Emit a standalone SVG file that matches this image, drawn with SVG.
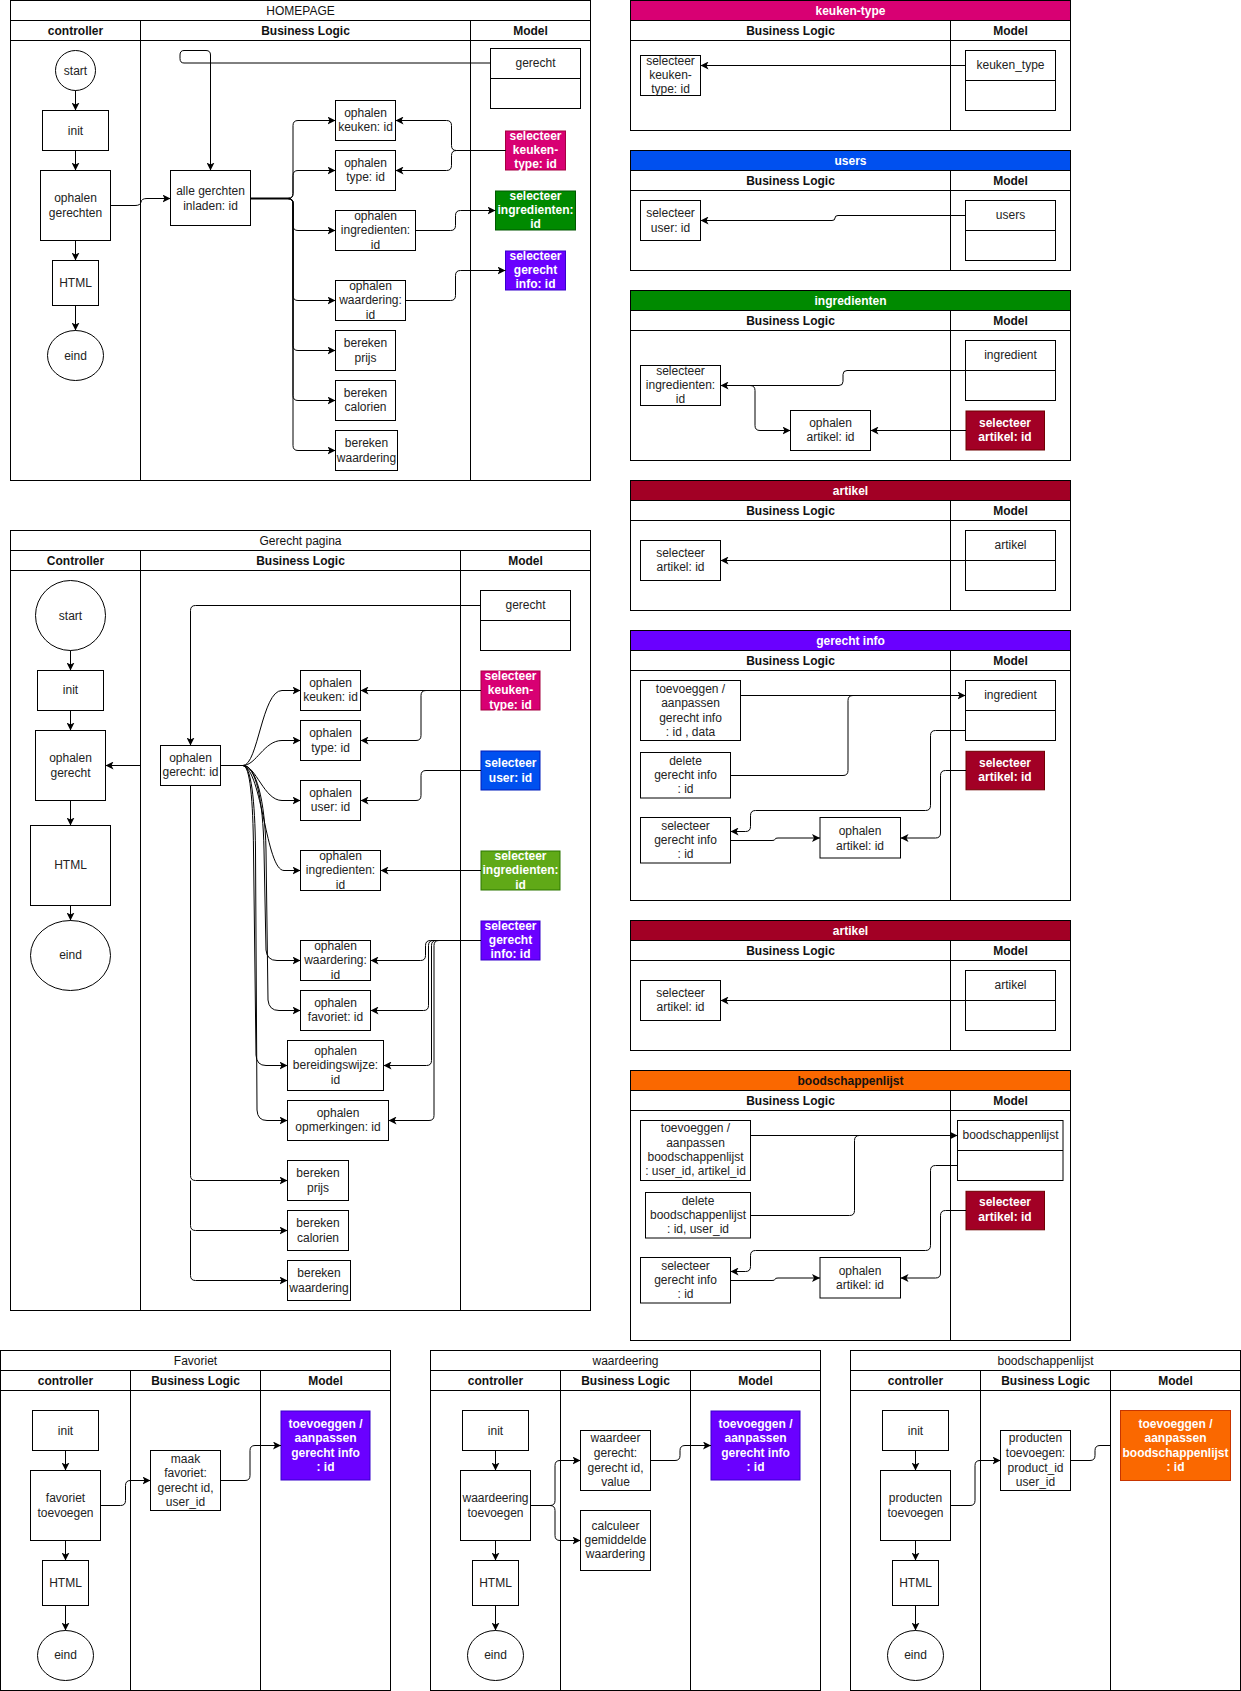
<svg xmlns="http://www.w3.org/2000/svg" width="1241" height="1691" viewBox="0 0 1241 1691">
<defs>
<style>
.pool{fill:#fff;stroke:#000;stroke-width:1}
.ln{stroke:#000;stroke-width:1;fill:none}
.box{fill:#fff;stroke:#000;stroke-width:1}
.c{fill:none;stroke:#000;stroke-width:1}
.t{font-family:"Liberation Sans",Arial,sans-serif;font-size:12px;fill:#222;text-anchor:middle;dominant-baseline:central}
.hd{font-family:"Liberation Sans",Arial,sans-serif;font-size:12px;font-weight:bold;fill:#111;text-anchor:middle;dominant-baseline:central}
.tt{font-family:"Liberation Sans",Arial,sans-serif;font-size:12px;fill:#111;text-anchor:middle;dominant-baseline:central}
.wb{font-family:"Liberation Sans",Arial,sans-serif;font-size:12px;font-weight:bold;fill:#fff;text-anchor:middle;dominant-baseline:central}
.pink{fill:#d80073;stroke:#a50040}
.blue{fill:#0050ef;stroke:#001dbc}
.green{fill:#008a00;stroke:#005700}
.lgreen{fill:#60a917;stroke:#2d7600}
.purple{fill:#6a00ff;stroke:#3700cc}
.red{fill:#a20025;stroke:#6f0000}
.orange{fill:#fa6800;stroke:#c73500}
</style>
<marker id="a" viewBox="0 0 10 10" refX="10" refY="5" markerWidth="8" markerHeight="8" orient="auto" markerUnits="userSpaceOnUse"><path d="M0,0 L10,5 L0,10 L2.5,5 z" fill="#000"/></marker>
</defs>
<rect width="1241" height="1691" fill="#fff"/>

<!-- HOMEPAGE pool -->
<g id="pool-homepage">
<rect class="pool" x="10.5" y="0.5" width="580" height="480"/>
<path class="ln" d="M10.5,20.5H590.5M10.5,40.5H590.5M140.5,20.5V480.5M470.5,20.5V480.5"/>
<text class="tt" x="300.5" y="10.5">HOMEPAGE</text>
<text class="hd" x="75.5" y="30.5">controller</text>
<text class="hd" x="305.5" y="30.5">Business Logic</text>
<text class="hd" x="530.5" y="30.5">Model</text>
</g>
<g id="hp-start"><ellipse class="box" cx="75.5" cy="70.5" rx="20" ry="20"/><text class="t" x="75.5" y="70.5">start</text></g>
<g id="hp-init"><rect class="box" x="42.5" y="110.5" width="66" height="40"/><text class="t" x="75.5" y="130.5">init</text></g>
<g id="hp-ophalen-gerechten"><rect class="box" x="40.5" y="170.5" width="70" height="70"/><text class="t" x="75.5" y="198">ophalen</text><text class="t" x="75.5" y="212.7">gerechten</text></g>
<g id="hp-html"><rect class="box" x="52.5" y="260.5" width="46" height="45"/><text class="t" x="75.5" y="283">HTML</text></g>
<g id="hp-eind"><ellipse class="box" cx="75.5" cy="355.5" rx="28" ry="25"/><text class="t" x="75.5" y="355.5">eind</text></g>
<g id="hp-alle"><rect class="box" x="170.5" y="170.5" width="80" height="55"/><text class="t" x="210.5" y="191">alle gerchten</text><text class="t" x="210.5" y="205.7">inladen: id</text></g>
<g id="hp-gerecht"><rect class="box" x="490.5" y="48.5" width="90" height="60"/><path class="ln" d="M490.5,78.5H580.5"/><text class="t" x="535.5" y="63">gerecht</text></g>
<g id="hp-keuken"><rect class="box" x="335.5" y="100.5" width="60" height="40"/><text class="t" x="365.5" y="112.7">ophalen</text><text class="t" x="365.5" y="127.3">keuken: id</text></g>
<g id="hp-type"><rect class="box" x="335.5" y="150.5" width="60" height="40"/><text class="t" x="365.5" y="162.7">ophalen</text><text class="t" x="365.5" y="177.3">type: id</text></g>
<g id="hp-ingredienten"><rect class="box" x="335.5" y="210.5" width="80" height="40"/><text class="t" x="375.5" y="216">ophalen</text><text class="t" x="375.5" y="230">ingredienten:</text><text class="t" x="375.5" y="244.7">id</text></g>
<g id="hp-waardering"><rect class="box" x="335.5" y="280.5" width="70" height="40"/><text class="t" x="370.5" y="286">ophalen</text><text class="t" x="370.5" y="300">waardering:</text><text class="t" x="370.5" y="314.7">id</text></g>
<g id="hp-prijs"><rect class="box" x="335.5" y="330.5" width="60" height="40"/><text class="t" x="365.5" y="342.7">bereken</text><text class="t" x="365.5" y="358">prijs</text></g>
<g id="hp-calorien"><rect class="box" x="335.5" y="380.5" width="60" height="40"/><text class="t" x="365.5" y="392.7">bereken</text><text class="t" x="365.5" y="407.3">calorien</text></g>
<g id="hp-bwaardering"><rect class="box" x="335.5" y="430.5" width="62" height="40"/><text class="t" x="366.5" y="442.7">bereken</text><text class="t" x="366.5" y="457.7">waardering</text></g>
<g id="hp-sel-keuken"><rect class="pink" x="505.5" y="131" width="60" height="39"/><text class="wb" x="535.5" y="136">selecteer</text><text class="wb" x="535.5" y="150">keuken-</text><text class="wb" x="535.5" y="164.3">type: id</text></g>
<g id="hp-sel-ingr"><rect class="green" x="495.5" y="191" width="80" height="39"/><text class="wb" x="535.5" y="196">selecteer</text><text class="wb" x="535.5" y="210">ingredienten:</text><text class="wb" x="535.5" y="224.3">id</text></g>
<g id="hp-sel-info"><rect class="purple" x="505.5" y="251" width="60" height="39"/><text class="wb" x="535.5" y="256">selecteer</text><text class="wb" x="535.5" y="270">gerecht</text><text class="wb" x="535.5" y="284.3">info: id</text></g>

<!-- keuken-type panel -->
<g id="pool-keuken-type">
<rect class="pool" x="630.5" y="0.5" width="440" height="130"/>
<rect class="pink" x="630.5" y="0.5" width="440" height="20" style="stroke:#000"/>
<path class="ln" d="M630.5,40.5H1070.5M950.5,20.5V130.5"/>
<text class="wb" x="850.5" y="10.5">keuken-type</text>
<text class="hd" x="790.5" y="30.5">Business Logic</text>
<text class="hd" x="1010.5" y="30.5">Model</text>
</g>
<g id="kt-sel"><rect class="box" x="640.5" y="55.5" width="60" height="40"/><text class="t" x="670.5" y="60.7">selecteer</text><text class="t" x="670.5" y="75">keuken-</text><text class="t" x="670.5" y="89.3">type: id</text></g>
<g id="kt-model"><rect class="box" x="965.5" y="50.5" width="90" height="60"/><path class="ln" d="M965.5,80.5H1055.5"/><text class="t" x="1010.5" y="64.5">keuken_type</text></g>

<!-- users panel -->
<g id="pool-users">
<rect class="pool" x="630.5" y="150.5" width="440" height="120"/>
<rect class="blue" x="630.5" y="150.5" width="440" height="20" style="stroke:#000"/>
<path class="ln" d="M630.5,190.5H1070.5M950.5,170.5V270.5"/>
<text class="wb" x="850.5" y="160.5">users</text>
<text class="hd" x="790.5" y="180.5">Business Logic</text>
<text class="hd" x="1010.5" y="180.5">Model</text>
</g>
<g id="us-sel"><rect class="box" x="640.5" y="200.5" width="60" height="40"/><text class="t" x="670.5" y="212.5">selecteer</text><text class="t" x="670.5" y="227.7">user: id</text></g>
<g id="us-model"><rect class="box" x="965.5" y="200.5" width="90" height="60"/><path class="ln" d="M965.5,230.5H1055.5"/><text class="t" x="1010.5" y="214.7">users</text></g>

<!-- ingredienten panel -->
<g id="pool-ingredienten">
<rect class="pool" x="630.5" y="290.5" width="440" height="170"/>
<rect class="green" x="630.5" y="290.5" width="440" height="20" style="stroke:#000"/>
<path class="ln" d="M630.5,330.5H1070.5M950.5,310.5V460.5"/>
<text class="wb" x="850.5" y="300.5">ingredienten</text>
<text class="hd" x="790.5" y="320.5">Business Logic</text>
<text class="hd" x="1010.5" y="320.5">Model</text>
</g>
<g id="in-sel"><rect class="box" x="640.5" y="365.5" width="80" height="40"/><text class="t" x="680.5" y="370.7">selecteer</text><text class="t" x="680.5" y="384.7">ingredienten:</text><text class="t" x="680.5" y="399.3">id</text></g>
<g id="in-ophalen"><rect class="box" x="790.5" y="410.5" width="80" height="40"/><text class="t" x="830.5" y="422.7">ophalen</text><text class="t" x="830.5" y="437.3">artikel: id</text></g>
<g id="in-model"><rect class="box" x="965.5" y="340.5" width="90" height="60"/><path class="ln" d="M965.5,370.5H1055.5"/><text class="t" x="1010.5" y="354.7">ingredient</text></g>
<g id="in-selart"><rect class="red" x="966" y="411" width="78.5" height="39"/><text class="wb" x="1005" y="422.7">selecteer</text><text class="wb" x="1005" y="437.3">artikel: id</text></g>

<!-- artikel panel 1 -->
<g id="pool-artikel-1">
<rect class="pool" x="630.5" y="480.5" width="440" height="130"/>
<rect class="red" x="630.5" y="480.5" width="440" height="20" style="stroke:#000"/>
<path class="ln" d="M630.5,520.5H1070.5M950.5,500.5V610.5"/>
<text class="wb" x="850.5" y="490.5">artikel</text>
<text class="hd" x="790.5" y="510.5">Business Logic</text>
<text class="hd" x="1010.5" y="510.5">Model</text>
</g>
<g id="a1-sel"><rect class="box" x="640.5" y="540.5" width="80" height="40"/><text class="t" x="680.5" y="552.7">selecteer</text><text class="t" x="680.5" y="567.3">artikel: id</text></g>
<g id="a1-model"><rect class="box" x="965.5" y="530.5" width="90" height="60"/><path class="ln" d="M965.5,560.5H1055.5"/><text class="t" x="1010.5" y="544.7">artikel</text></g>

<!-- gerecht info panel -->
<g id="pool-gerecht-info">
<rect class="pool" x="630.5" y="630.5" width="440" height="270"/>
<rect class="purple" x="630.5" y="630.5" width="440" height="20" style="stroke:#000"/>
<path class="ln" d="M630.5,670.5H1070.5M950.5,650.5V900.5"/>
<text class="wb" x="850.5" y="640.5">gerecht info</text>
<text class="hd" x="790.5" y="660.5">Business Logic</text>
<text class="hd" x="1010.5" y="660.5">Model</text>
</g>
<g id="gi-toevoegen"><rect class="box" x="640.5" y="680.5" width="100" height="60"/><text class="t" x="690.5" y="688.7">toevoeggen /</text><text class="t" x="690.5" y="703">aanpassen</text><text class="t" x="690.5" y="717.7">gerecht info</text><text class="t" x="690.5" y="731.7">: id , data</text></g>
<g id="gi-delete"><rect class="box" x="640.5" y="752.5" width="90" height="45.5"/><text class="t" x="685.5" y="760.7">delete</text><text class="t" x="685.5" y="774.7">gerecht info</text><text class="t" x="685.5" y="789.3">: id</text></g>
<g id="gi-selecteer"><rect class="box" x="640.5" y="817.5" width="90" height="45.5"/><text class="t" x="685.5" y="825.7">selecteer</text><text class="t" x="685.5" y="839.7">gerecht info</text><text class="t" x="685.5" y="854.3">: id</text></g>
<g id="gi-ophalen"><rect class="box" x="820" y="817.5" width="80.5" height="40.5"/><text class="t" x="860" y="830.7">ophalen</text><text class="t" x="860" y="845.7">artikel: id</text></g>
<g id="gi-model"><rect class="box" x="965.5" y="680.5" width="90" height="60"/><path class="ln" d="M965.5,710.5H1055.5"/><text class="t" x="1010.5" y="694.7">ingredient</text></g>
<g id="gi-selart"><rect class="red" x="966" y="751.3" width="78.5" height="38.5"/><text class="wb" x="1005" y="762.7">selecteer</text><text class="wb" x="1005" y="777">artikel: id</text></g>

<!-- artikel panel 2 -->
<g id="pool-artikel-2">
<rect class="pool" x="630.5" y="920.5" width="440" height="130"/>
<rect class="red" x="630.5" y="920.5" width="440" height="20" style="stroke:#000"/>
<path class="ln" d="M630.5,960.5H1070.5M950.5,940.5V1050.5"/>
<text class="wb" x="850.5" y="930.5">artikel</text>
<text class="hd" x="790.5" y="950.5">Business Logic</text>
<text class="hd" x="1010.5" y="950.5">Model</text>
</g>
<g id="a2-sel"><rect class="box" x="640.5" y="980.5" width="80" height="40"/><text class="t" x="680.5" y="992.7">selecteer</text><text class="t" x="680.5" y="1007.3">artikel: id</text></g>
<g id="a2-model"><rect class="box" x="965.5" y="970.5" width="90" height="60"/><path class="ln" d="M965.5,1000.5H1055.5"/><text class="t" x="1010.5" y="984.7">artikel</text></g>

<!-- boodschappenlijst panel -->
<g id="pool-boodschappenlijst">
<rect class="pool" x="630.5" y="1070.5" width="440" height="270"/>
<rect class="orange" x="630.5" y="1070.5" width="440" height="20" style="stroke:#000"/>
<path class="ln" d="M630.5,1110.5H1070.5M950.5,1090.5V1340.5"/>
<text class="hd" x="850.5" y="1080.5">boodschappenlijst</text>
<text class="hd" x="790.5" y="1100.5">Business Logic</text>
<text class="hd" x="1010.5" y="1100.5">Model</text>
</g>
<g id="bl-toevoegen"><rect class="box" x="640.5" y="1120.5" width="110" height="60"/><text class="t" x="695.5" y="1128.3">toevoeggen /</text><text class="t" x="695.5" y="1142.7">aanpassen</text><text class="t" x="695.5" y="1157.3">boodschappenlijst</text><text class="t" x="695.5" y="1171.3">: user_id, artikel_id</text></g>
<g id="bl-delete"><rect class="box" x="645.5" y="1192.5" width="105" height="45.5"/><text class="t" x="698" y="1200.7">delete</text><text class="t" x="698" y="1214.7">boodschappenlijst</text><text class="t" x="698" y="1229.3">: id, user_id</text></g>
<g id="bl-selecteer"><rect class="box" x="640.5" y="1257.5" width="90" height="45.5"/><text class="t" x="685.5" y="1265.7">selecteer</text><text class="t" x="685.5" y="1279.7">gerecht info</text><text class="t" x="685.5" y="1294.3">: id</text></g>
<g id="bl-ophalen"><rect class="box" x="820" y="1257.5" width="80.5" height="40.5"/><text class="t" x="860" y="1270.7">ophalen</text><text class="t" x="860" y="1285.3">artikel: id</text></g>
<g id="bl-model"><rect class="box" x="957.5" y="1120.5" width="105.5" height="60"/><path class="ln" d="M957.5,1150.5H1063"/><text class="t" x="1010.5" y="1134.7">boodschappenlijst</text></g>
<g id="bl-selart"><rect class="red" x="966" y="1191.3" width="78.5" height="38.5"/><text class="wb" x="1005" y="1202.3">selecteer</text><text class="wb" x="1005" y="1217.3">artikel: id</text></g>

<!-- Gerecht pagina pool -->
<g id="pool-gerecht-pagina">
<rect class="pool" x="10.5" y="530.5" width="580" height="780"/>
<path class="ln" d="M10.5,550.5H590.5M10.5,570.5H590.5M140.5,550.5V1310.5M460.5,550.5V1310.5"/>
<text class="tt" x="300.5" y="540.5">Gerecht pagina</text>
<text class="hd" x="75.5" y="560.5">Controller</text>
<text class="hd" x="300.5" y="560.5">Business Logic</text>
<text class="hd" x="525.5" y="560.5">Model</text>
</g>
<g id="gp-start"><ellipse class="box" cx="70.5" cy="615.5" rx="35" ry="35"/><text class="t" x="70.5" y="615.5">start</text></g>
<g id="gp-init"><rect class="box" x="37.5" y="670.5" width="66" height="40"/><text class="t" x="70.5" y="690">init</text></g>
<g id="gp-ophalen-gerecht"><rect class="box" x="35.5" y="730.5" width="70" height="70"/><text class="t" x="70.5" y="757.7">ophalen</text><text class="t" x="70.5" y="772.7">gerecht</text></g>
<g id="gp-html"><rect class="box" x="30.5" y="825.5" width="80" height="80"/><text class="t" x="70.5" y="865">HTML</text></g>
<g id="gp-eind"><ellipse class="box" cx="70.5" cy="955.5" rx="40" ry="35"/><text class="t" x="70.5" y="955">eind</text></g>
<g id="gp-ophalen-gerecht-id"><rect class="box" x="160.5" y="745.5" width="60" height="40"/><text class="t" x="190.5" y="757.7">ophalen</text><text class="t" x="190.5" y="772.3">gerecht: id</text></g>
<g id="gp-gerecht"><rect class="box" x="480.5" y="590.5" width="90" height="60"/><path class="ln" d="M480.5,620.5H570.5"/><text class="t" x="525.5" y="605">gerecht</text></g>
<g id="gp-keuken"><rect class="box" x="300.5" y="670.5" width="60" height="40"/><text class="t" x="330.5" y="682.7">ophalen</text><text class="t" x="330.5" y="697.3">keuken: id</text></g>
<g id="gp-type"><rect class="box" x="300.5" y="720.5" width="60" height="40"/><text class="t" x="330.5" y="732.7">ophalen</text><text class="t" x="330.5" y="747.7">type: id</text></g>
<g id="gp-user"><rect class="box" x="300.5" y="780.5" width="60" height="40"/><text class="t" x="330.5" y="792.7">ophalen</text><text class="t" x="330.5" y="807.3">user: id</text></g>
<g id="gp-ingredienten"><rect class="box" x="300.5" y="850.5" width="80" height="40"/><text class="t" x="340.5" y="856">ophalen</text><text class="t" x="340.5" y="870">ingredienten:</text><text class="t" x="340.5" y="884.7">id</text></g>
<g id="gp-waardering"><rect class="box" x="300.5" y="940.5" width="70" height="40"/><text class="t" x="335.5" y="946">ophalen</text><text class="t" x="335.5" y="960">waardering:</text><text class="t" x="335.5" y="974.7">id</text></g>
<g id="gp-favoriet"><rect class="box" x="300.5" y="990.5" width="70" height="40"/><text class="t" x="335.5" y="1003">ophalen</text><text class="t" x="335.5" y="1017.3">favoriet: id</text></g>
<g id="gp-bereidingswijze"><rect class="box" x="287.5" y="1040.5" width="96" height="50"/><text class="t" x="335.5" y="1051">ophalen</text><text class="t" x="335.5" y="1065">bereidingswijze:</text><text class="t" x="335.5" y="1079.7">id</text></g>
<g id="gp-opmerkingen"><rect class="box" x="287.5" y="1100.5" width="101" height="40"/><text class="t" x="338" y="1113">ophalen</text><text class="t" x="338" y="1127.3">opmerkingen: id</text></g>
<g id="gp-prijs"><rect class="box" x="287.5" y="1160.5" width="61" height="40"/><text class="t" x="318" y="1172.7">bereken</text><text class="t" x="318" y="1187.7">prijs</text></g>
<g id="gp-calorien"><rect class="box" x="287.5" y="1210.5" width="61" height="40"/><text class="t" x="318" y="1222.7">bereken</text><text class="t" x="318" y="1237.7">calorien</text></g>
<g id="gp-bwaardering"><rect class="box" x="287.5" y="1260.5" width="63" height="40"/><text class="t" x="319" y="1272.7">bereken</text><text class="t" x="319" y="1287.7">waardering</text></g>
<g id="gp-sel-keuken"><rect class="pink" x="481" y="671" width="59" height="39"/><text class="wb" x="510.5" y="675.7">selecteer</text><text class="wb" x="510.5" y="689.7">keuken-</text><text class="wb" x="510.5" y="704.7">type: id</text></g>
<g id="gp-sel-user"><rect class="blue" x="481" y="751" width="59" height="39"/><text class="wb" x="510.5" y="763">selecteer</text><text class="wb" x="510.5" y="777.7">user: id</text></g>
<g id="gp-sel-ingr"><rect class="lgreen" x="481" y="851" width="79" height="39"/><text class="wb" x="520.5" y="856">selecteer</text><text class="wb" x="520.5" y="870">ingredienten:</text><text class="wb" x="520.5" y="884.7">id</text></g>
<g id="gp-sel-info"><rect class="purple" x="481" y="921" width="59" height="39"/><text class="wb" x="510.5" y="925.7">selecteer</text><text class="wb" x="510.5" y="939.7">gerecht</text><text class="wb" x="510.5" y="954.3">info: id</text></g>

<!-- Favoriet pool -->
<g id="pool-favoriet">
<rect class="pool" x="0.5" y="1350.5" width="390" height="340"/>
<path class="ln" d="M0.5,1370.5H390.5M0.5,1390.5H390.5M130.5,1370.5V1690.5M260.5,1370.5V1690.5"/>
<text class="tt" x="195.5" y="1360.5">Favoriet</text>
<text class="hd" x="65.5" y="1380.5">controller</text>
<text class="hd" x="195.5" y="1380.5">Business Logic</text>
<text class="hd" x="325.5" y="1380.5">Model</text>
</g>
<g id="fv-init"><rect class="box" x="32.5" y="1410.5" width="66" height="40"/><text class="t" x="65.5" y="1430.5">init</text></g>
<g id="fv-toevoegen"><rect class="box" x="30.5" y="1470.5" width="70" height="70"/><text class="t" x="65.5" y="1497.7">favoriet</text><text class="t" x="65.5" y="1512.7">toevoegen</text></g>
<g id="fv-html"><rect class="box" x="42.5" y="1560.5" width="46" height="45"/><text class="t" x="65.5" y="1583">HTML</text></g>
<g id="fv-eind"><ellipse class="box" cx="65.5" cy="1655.5" rx="28" ry="25"/><text class="t" x="65.5" y="1655">eind</text></g>
<g id="fv-maak"><rect class="box" x="150.5" y="1450.5" width="70" height="60"/><text class="t" x="185.5" y="1458.7">maak</text><text class="t" x="185.5" y="1472.7">favoriet:</text><text class="t" x="185.5" y="1487.7">gerecht id,</text><text class="t" x="185.5" y="1501.7">user_id</text></g>
<g id="fv-model"><rect class="purple" x="281" y="1411" width="89" height="69"/><text class="wb" x="325.5" y="1423.7">toevoeggen /</text><text class="wb" x="325.5" y="1438">aanpassen</text><text class="wb" x="325.5" y="1452.7">gerecht info</text><text class="wb" x="325.5" y="1466.7">: id</text></g>

<!-- waardeering pool -->
<g id="pool-waardeering">
<rect class="pool" x="430.5" y="1350.5" width="390" height="340"/>
<path class="ln" d="M430.5,1370.5H820.5M430.5,1390.5H820.5M560.5,1370.5V1690.5M690.5,1370.5V1690.5"/>
<text class="tt" x="625.5" y="1360.5">waardeering</text>
<text class="hd" x="495.5" y="1380.5">controller</text>
<text class="hd" x="625.5" y="1380.5">Business Logic</text>
<text class="hd" x="755.5" y="1380.5">Model</text>
</g>
<g id="wd-init"><rect class="box" x="462.5" y="1410.5" width="66" height="40"/><text class="t" x="495.5" y="1430.5">init</text></g>
<g id="wd-toevoegen"><rect class="box" x="460.5" y="1470.5" width="70" height="70"/><text class="t" x="495.5" y="1497.7">waardeering</text><text class="t" x="495.5" y="1512.7">toevoegen</text></g>
<g id="wd-html"><rect class="box" x="472.5" y="1560.5" width="46" height="45"/><text class="t" x="495.5" y="1583">HTML</text></g>
<g id="wd-eind"><ellipse class="box" cx="495.5" cy="1655.5" rx="28" ry="25"/><text class="t" x="495.5" y="1655">eind</text></g>
<g id="wd-waardeer"><rect class="box" x="580.5" y="1430.5" width="70" height="60"/><text class="t" x="615.5" y="1438.3">waardeer</text><text class="t" x="615.5" y="1452.7">gerecht:</text><text class="t" x="615.5" y="1467.7">gerecht id,</text><text class="t" x="615.5" y="1481.7">value</text></g>
<g id="wd-calculeer"><rect class="box" x="580.5" y="1510.5" width="70" height="60"/><text class="t" x="615.5" y="1525.7">calculeer</text><text class="t" x="615.5" y="1540">gemiddelde</text><text class="t" x="615.5" y="1554.3">waardering</text></g>
<g id="wd-model"><rect class="purple" x="711" y="1411" width="89" height="69"/><text class="wb" x="755.5" y="1423.7">toevoeggen /</text><text class="wb" x="755.5" y="1438">aanpassen</text><text class="wb" x="755.5" y="1452.7">gerecht info</text><text class="wb" x="755.5" y="1466.7">: id</text></g>

<!-- boodschappenlijst pool (bottom) -->
<g id="pool-boodschappenlijst-2">
<rect class="pool" x="850.5" y="1350.5" width="390" height="340"/>
<path class="ln" d="M850.5,1370.5H1240.5M850.5,1390.5H1240.5M980.5,1370.5V1690.5M1110.5,1370.5V1690.5"/>
<text class="tt" x="1045.5" y="1360.5">boodschappenlijst</text>
<text class="hd" x="915.5" y="1380.5">controller</text>
<text class="hd" x="1045.5" y="1380.5">Business Logic</text>
<text class="hd" x="1175.5" y="1380.5">Model</text>
</g>
<g id="bs-init"><rect class="box" x="882.5" y="1410.5" width="66" height="40"/><text class="t" x="915.5" y="1430.5">init</text></g>
<g id="bs-toevoegen"><rect class="box" x="880.5" y="1470.5" width="70" height="70"/><text class="t" x="915.5" y="1497.7">producten</text><text class="t" x="915.5" y="1512.7">toevoegen</text></g>
<g id="bs-html"><rect class="box" x="892.5" y="1560.5" width="46" height="45"/><text class="t" x="915.5" y="1583">HTML</text></g>
<g id="bs-eind"><ellipse class="box" cx="915.5" cy="1655.5" rx="28" ry="25"/><text class="t" x="915.5" y="1655">eind</text></g>
<g id="bs-producten"><rect class="box" x="1000.5" y="1430.5" width="70" height="60"/><text class="t" x="1035.5" y="1438.3">producten</text><text class="t" x="1035.5" y="1452.7">toevoegen:</text><text class="t" x="1035.5" y="1467.7">product_id</text><text class="t" x="1035.5" y="1481.7">user_id</text></g>
<g id="bs-model"><rect class="orange" x="1120.5" y="1410.5" width="110" height="70"/><text class="wb" x="1175.5" y="1423.7">toevoeggen /</text><text class="wb" x="1175.5" y="1438">aanpassen</text><text class="wb" x="1175.5" y="1452.7">boodschappenlijst</text><text class="wb" x="1175.5" y="1466.7">: id</text></g>

<!-- connectors -->
<g id="connectors">
<g class="c" marker-end="url(#a)">
<path d="M75.5,90.5V110.5"/>
<path d="M75.5,150.5V170.5"/>
<path d="M75.5,240.5V260.5"/>
<path d="M75.5,305.5V330.5"/>
<path d="M110.5,205.5H135Q140.5,205.5 141,202Q141.5,198.5 147,198.5H170.5"/>
<path d="M490.5,63H184Q180,63 180,58.5V55Q180,50.5 184,50.5H206Q210.5,50.5 210.5,55V170.5"/>
<path d="M250.5,198.5H288Q293,198.5 293,193.5V125.5Q293,120.5 298,120.5H335.5"/>
<path d="M250.5,198.5H288Q293,198.5 293,193.5V175.5Q293,170.5 298,170.5H335.5"/>
<path d="M250.5,198.5H288Q293,198.5 293,203.5V225.5Q293,230.5 298,230.5H335.5"/>
<path d="M250.5,198.5H288Q293,198.5 293,203.5V295.5Q293,300.5 298,300.5H335.5"/>
<path d="M250.5,198.5H288Q293,198.5 293,203.5V345.5Q293,350.5 298,350.5H335.5"/>
<path d="M250.5,198.5H288Q293,198.5 293,203.5V395.5Q293,400.5 298,400.5H335.5"/>
<path d="M250.5,198.5H288Q293,198.5 293,203.5V445.5Q293,450.5 298,450.5H335.5"/>
<path d="M505.5,150.5H456.5Q451.5,150.5 451.5,145.5V125.5Q451.5,120.5 446.5,120.5H395.5"/>
<path d="M505.5,150.5H456.5Q451.5,150.5 451.5,155.5V165.5Q451.5,170.5 446.5,170.5H395.5"/>
<path d="M415.5,230.5H450.5Q455.5,230.5 455.5,225.5V215.5Q455.5,210.5 460.5,210.5H495.5"/>
<path d="M405.5,300.5H450.5Q455.5,300.5 455.5,295.5V275.5Q455.5,270.5 460.5,270.5H505.5"/>

<path d="M965.5,65.5H700.5"/>
<path d="M965.5,215.5H838Q835,215.5 835,218Q835,220.5 832,220.5H700.5"/>
<path d="M965.5,370.5H847Q843,370.5 843,374.5V381.5Q843,385.5 839,385.5H720.5"/>
<path d="M720.5,385.5H750Q755,385.5 755,390.5V425.5Q755,430.5 760,430.5H790.5"/>
<path d="M966,430.5H870.5"/>
<path d="M965.5,560.5H720.5"/>
<path d="M740.5,695.5H965.5"/>
<path d="M965.5,730.5H935.5Q930.5,730.5 930.5,735.5V805.5Q930.5,810.5 925.5,810.5H755.5Q750.5,810.5 750.5,815.5V826.5Q750.5,831.5 745.5,831.5H730.5"/>
<path d="M966,770.5H945.5Q940.5,770.5 940.5,775.5V833Q940.5,838 935.5,838H900.5"/>
<path d="M730.5,840.5H772Q775,840.5 775,839.3Q775,838 778,838H820"/>
<path d="M965.5,1000.5H720.5"/>
<path d="M750.5,1135.5H957.5"/>
<path d="M957.5,1165.5H935.5Q930.5,1165.5 930.5,1170.5V1245.5Q930.5,1250.5 925.5,1250.5H755.5Q750.5,1250.5 750.5,1255.5V1266.5Q750.5,1271.5 745.5,1271.5H730.5"/>
<path d="M966,1210.5H945.5Q940.5,1210.5 940.5,1215.5V1273Q940.5,1278 935.5,1278H900.5"/>
<path d="M730.5,1280.5H772Q775,1280.5 775,1279.3Q775,1278 778,1278H820"/>

<path d="M70.5,650.5V670.5"/>
<path d="M70.5,710.5V730.5"/>
<path d="M70.5,800.5V825.5"/>
<path d="M70.5,905.5V920.5"/>
<path d="M140.5,765.5H105.5"/>
<path d="M480.5,605.5H195.5Q190.5,605.5 190.5,610.5V745.5"/>
<path d="M190.5,785.5V1175.5Q190.5,1180.5 195.5,1180.5H287.5"/>
<path d="M190.5,1180.5V1225.5Q190.5,1230.5 195.5,1230.5H287.5"/>
<path d="M190.5,1230.5V1275.5Q190.5,1280.5 195.5,1280.5H287.5"/>
<path d="M220.5,765.5H243C258,765.5 262,690.5 282,690.5H300.5"/>
<path d="M243,765.5C256,765.5 264,740.5 282,740.5H300.5"/>
<path d="M243,765.5C256,765.5 264,800.5 282,800.5H300.5"/>
<path d="M243,765.5C262,770 266,870.5 284,870.5H300.5"/>
<path d="M243,765.5C256,765.5 263,800 264,850L266,950Q267,960.5 277,960.5H300.5"/>
<path d="M243,765.5C256,765.5 265,800 266,850L268,1000Q269,1010.5 279,1010.5H300.5"/>
<path d="M243,765.5C250,765.5 253,800 253.5,850L256,1055Q256.5,1065.5 266,1065.5H287.5"/>
<path d="M243,765.5C251,765.5 255,800 255.5,850L257,1110Q257.5,1120.5 267,1120.5H287.5"/>
<path d="M481,690.5H360.5"/>
<path d="M481,690.5H426Q421,690.5 421,695.5V735.5Q421,740.5 416,740.5H360.5"/>
<path d="M481,770.5H426Q421,770.5 421,775.5V795.5Q421,800.5 416,800.5H360.5"/>
<path d="M481,870.5H380.5"/>
<path d="M481,940.5H430.5Q425.5,940.5 425.5,945.5V955.5Q425.5,960.5 420.5,960.5H370.5"/>
<path d="M481,940.5H433.5Q428.5,940.5 428.5,945.5V1005.5Q428.5,1010.5 423.5,1010.5H370.5"/>
<path d="M481,940.5H436.5Q431.5,940.5 431.5,945.5V1060.5Q431.5,1065.5 426.5,1065.5H383.5"/>
<path d="M481,940.5H439Q434,940.5 434,945.5V1115.5Q434,1120.5 429,1120.5H388.5"/>

<path d="M65.5,1450.5V1470.5"/>
<path d="M65.5,1540.5V1560.5"/>
<path d="M65.5,1605.5V1630.5"/>
<path d="M100.5,1505.5H120.5Q125.5,1505.5 125.5,1500.5V1485.5Q125.5,1480.5 130.5,1480.5H150.5"/>
<path d="M220.5,1480.5H245Q250,1480.5 250,1475.5V1450.5Q250,1445.5 255,1445.5H281"/>
<path d="M495.5,1450.5V1470.5"/>
<path d="M495.5,1540.5V1560.5"/>
<path d="M495.5,1605.5V1630.5"/>
<path d="M530.5,1505.5H550Q555,1505.5 555,1500.5V1465.5Q555,1460.5 560,1460.5H580.5"/>
<path d="M530.5,1505.5H550Q555,1505.5 555,1510.5V1535.5Q555,1540.5 560,1540.5H580.5"/>
<path d="M650.5,1460.5H675Q680,1460.5 680,1455.5V1450.5Q680,1445.5 685,1445.5H711"/>
<path d="M915.5,1450.5V1470.5"/>
<path d="M915.5,1540.5V1560.5"/>
<path d="M915.5,1605.5V1630.5"/>
<path d="M950.5,1505.5H970Q975,1505.5 975,1500.5V1465.5Q975,1460.5 980,1460.5H1000.5"/>
</g>
<g class="c">
<path d="M250.5,198.5H290" stroke-width="2"/>
<path d="M730.5,775.5H843Q848,775.5 848,770.5V700.5Q848,695.5 853,695.5H958"/>
<path d="M750.5,1215.5H849.5Q854.5,1215.5 854.5,1210.5V1140.5Q854.5,1135.5 859.5,1135.5H950"/>
<path d="M1070.5,1460.5H1090Q1095,1460.5 1095,1455.5V1450.5Q1095,1445.5 1100,1445.5H1110.5"/>
</g>
</g>
</svg>
